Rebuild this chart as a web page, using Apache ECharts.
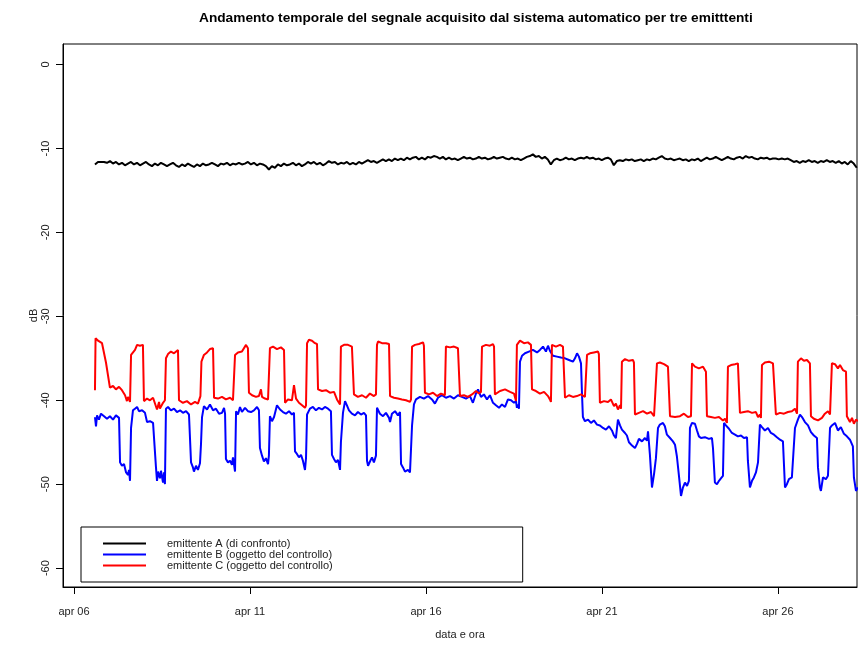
<!DOCTYPE html>
<html><head><meta charset="utf-8">
<script src="https://cdn.jsdelivr.net/npm/echarts@6/dist/echarts.min.js"></script>
<style>html,body{margin:0;padding:0;background:#fff}#c{width:868px;height:645px}</style>
</head><body><div id="c"></div>
<script>
// ---- data (time in hours since 6 April 00:00, values in dB) ----
const titleText = 'Andamento temporale del segnale acquisito dal sistema automatico per tre emitttenti';
const seriesNames = ['emittente A (di confronto)', 'emittente B (oggetto del controllo)', 'emittente C (oggetto del controllo)'];
const xTickHours = [0, 120, 240, 360, 480];
const xTickLabels = ['apr 06', 'apr 11', 'apr 16', 'apr 21', 'apr 26'];
const yTicks = [0, -10, -20, -30, -40, -50, -60];

// emittente A: regular samples
const blackStartHour = 14.3;
const blackStepHours = 2.045;
const blackDb = [-11.9,-11.6,-11.6,-11.6,-11.7,-11.5,-11.8,-11.6,-11.9,-11.7,-12.0,-11.8,-11.6,-11.9,-11.7,-12.0,-11.8,-11.6,-11.9,-12.1,
-11.8,-12.0,-11.7,-11.9,-12.1,-11.9,-11.7,-12.0,-12.2,-11.9,-12.1,-11.8,-12.0,-12.2,-11.9,-12.1,-11.8,-12.0,-11.9,-11.7,
-11.9,-12.1,-11.8,-11.9,-11.7,-12.0,-11.8,-11.9,-11.7,-11.9,-11.8,-11.6,-11.9,-11.7,-12.0,-11.8,-11.9,-12.1,-12.5,-12.1,
-12.3,-11.9,-12.1,-11.8,-12.0,-11.9,-11.7,-12.0,-11.8,-12.1,-11.9,-11.6,-11.8,-11.6,-11.9,-11.7,-12.0,-11.8,-11.5,-11.7,
-11.6,-11.9,-11.7,-11.8,-11.6,-11.9,-11.7,-11.9,-11.6,-11.8,-11.6,-11.4,-11.6,-11.5,-11.7,-11.5,-11.3,-11.5,-11.3,-11.5,
-11.2,-11.4,-11.2,-11.4,-11.1,-11.3,-11.1,-11.0,-11.3,-11.1,-11.3,-11.0,-11.1,-10.9,-11.0,-11.2,-11.0,-11.3,-11.1,-11.3,
-11.2,-11.4,-11.2,-11.0,-11.2,-11.1,-11.3,-11.2,-11.0,-11.2,-11.1,-11.3,-11.2,-11.0,-11.2,-11.1,-11.0,-11.2,-11.3,-11.1,
-11.3,-11.2,-11.4,-11.2,-11.0,-10.9,-10.7,-11.0,-10.9,-11.2,-11.0,-11.3,-11.9,-11.4,-11.2,-11.4,-11.3,-11.1,-11.3,-11.2,
-11.4,-11.2,-11.1,-11.2,-11.0,-11.2,-11.1,-11.3,-11.2,-11.4,-11.2,-11.1,-11.3,-12.0,-11.5,-11.4,-11.5,-11.3,-11.4,-11.3,
-11.5,-11.4,-11.3,-11.5,-11.3,-11.4,-11.2,-11.3,-11.1,-10.9,-11.2,-11.3,-11.2,-11.4,-11.3,-11.2,-11.4,-11.3,-11.5,-11.3,
-11.4,-11.2,-11.5,-11.3,-11.1,-11.3,-11.2,-11.0,-11.2,-11.4,-11.2,-11.0,-11.2,-11.3,-11.1,-11.0,-11.2,-10.9,-11.1,-11.0,
-11.2,-11.3,-11.1,-11.2,-11.1,-11.3,-11.2,-11.2,-11.3,-11.2,-11.3,-11.2,-11.4,-11.6,-11.5,-11.7,-11.5,-11.6,-11.4,-11.6,
-11.5,-11.7,-11.5,-11.6,-11.4,-11.6,-11.5,-11.7,-11.5,-11.8,-11.6,-11.9,-11.5,-11.8,-12.3];

// emittente B: [hour, dB]
const blueData = [[14.3,-42.0],[15.0,-43.1],[15.7,-41.8],[17.0,-42.3],[18.4,-41.6],[20.5,-41.9],[22.5,-42.2],[24.5,-41.9],[26.6,-42.3],[28.6,-41.8],[30.7,-42.1],[31.4,-47.4],[32.7,-47.8],[34.1,-47.6],[35.5,-48.6],[36.8,-48.9],[37.5,-48.3],[38.2,-49.6],[38.9,-43.3],[40.2,-41.2],[41.6,-41.0],[43.0,-40.8],[44.3,-41.3],[46.4,-41.2],[48.4,-41.5],[49.8,-42.6],[51.8,-42.5],[53.9,-42.7],[55.2,-42.6],[55.9,-48.0],[56.6,-49.6],[57.3,-48.5],[58.6,-49.3],[59.3,-48.4],[60.7,-49.8],[61.4,-48.6],[62.0,-50.0],[62.7,-41.0],[64.1,-40.8],[66.1,-41.2],[68.2,-41.0],[70.2,-41.4],[72.3,-41.2],[74.3,-41.5],[76.4,-41.3],[78.4,-41.7],[79.1,-41.6],[79.8,-47.4],[81.1,-48.0],[81.8,-48.5],[83.2,-47.8],[84.5,-48.3],[85.9,-47.5],[86.6,-45.2],[87.3,-42.0],[88.6,-40.7],[90.7,-41.1],[92.7,-40.5],[94.8,-41.2],[96.8,-41.0],[98.9,-41.6],[100.9,-41.5],[102.3,-40.9],[103.0,-41.6],[103.6,-47.0],[105.0,-47.4],[106.4,-47.2],[107.7,-47.7],[108.4,-46.8],[109.8,-48.5],[110.5,-41.3],[111.8,-41.7],[113.2,-40.8],[114.5,-41.4],[116.6,-40.9],[118.6,-41.3],[120.7,-41.4],[122.7,-41.2],[124.8,-40.8],[126.1,-41.2],[126.8,-45.7],[128.2,-46.6],[129.5,-47.3],[130.9,-46.9],[132.3,-47.6],[132.9,-46.6],[133.6,-41.9],[135.0,-42.5],[136.4,-42.0],[138.4,-40.6],[140.5,-41.1],[142.5,-41.4],[144.5,-41.6],[146.6,-41.3],[148.6,-41.7],[150.0,-41.5],[150.7,-46.1],[152.0,-46.4],[153.4,-46.8],[154.8,-46.5],[156.1,-47.2],[157.5,-48.3],[158.2,-46.9],[158.9,-41.7],[160.9,-41.0],[162.9,-40.8],[165.0,-41.2],[167.0,-40.9],[169.1,-41.1],[171.1,-40.8],[173.2,-41.0],[175.2,-41.3],[175.9,-46.5],[177.3,-47.0],[178.6,-47.4],[180.0,-47.1],[181.4,-48.3],[182.0,-45.0],[183.4,-41.5],[184.8,-40.1],[186.1,-40.6],[187.5,-41.2],[189.5,-41.6],[191.6,-41.8],[193.6,-41.4],[195.7,-41.7],[197.7,-41.5],[199.1,-41.8],[199.8,-47.2],[200.5,-47.8],[201.8,-47.3],[203.2,-46.8],[204.5,-47.4],[205.9,-46.6],[206.6,-40.9],[208.6,-41.6],[210.7,-41.9],[212.7,-41.5],[214.8,-42.1],[215.5,-42.6],[216.8,-41.6],[218.9,-41.3],[220.9,-41.8],[222.3,-41.4],[223.0,-47.6],[224.3,-48.0],[225.7,-48.5],[227.7,-48.3],[229.1,-48.6],[230.5,-43.0],[231.8,-40.5],[233.2,-39.9],[235.9,-39.6],[238.6,-39.8],[241.4,-39.5],[244.1,-39.9],[246.1,-40.4],[248.2,-39.7],[250.9,-39.4],[253.6,-39.7],[256.4,-39.5],[259.1,-39.8],[261.8,-39.4],[264.5,-39.6],[267.3,-39.8],[270.0,-39.5],[272.0,-40.3],[274.1,-39.2],[275.5,-38.7],[277.5,-39.6],[279.5,-39.3],[281.6,-39.9],[283.6,-39.4],[285.7,-40.3],[287.7,-40.6],[289.8,-40.9],[291.8,-40.5],[293.9,-40.8],[295.9,-39.9],[298.0,-40.0],[300.0,-40.3],[301.4,-40.1],[302.0,-40.9],[302.7,-40.5],[303.4,-41.0],[304.1,-35.4],[305.5,-34.7],[307.5,-34.4],[310.2,-34.2],[312.9,-34.0],[315.7,-34.3],[317.7,-34.0],[319.8,-33.6],[321.8,-34.2],[323.2,-33.5],[324.5,-34.1],[326.6,-34.7],[329.3,-34.8],[332.0,-34.9],[334.8,-35.0],[337.5,-35.2],[340.2,-35.4],[341.6,-35.0],[343.0,-34.4],[344.3,-34.8],[345.7,-35.6],[346.4,-39.3],[347.0,-42.0],[348.4,-42.5],[350.5,-42.3],[352.5,-42.7],[354.5,-42.4],[356.6,-42.9],[358.6,-43.0],[360.7,-43.3],[362.7,-43.5],[364.8,-43.1],[366.8,-43.6],[368.2,-44.2],[369.5,-44.5],[370.9,-42.3],[372.3,-43.0],[373.6,-43.5],[375.7,-43.9],[377.0,-44.2],[378.4,-45.0],[380.5,-45.4],[382.5,-45.7],[383.9,-45.2],[385.2,-44.6],[387.3,-44.9],[389.3,-44.5],[390.7,-44.8],[391.4,-43.7],[392.7,-46.5],[394.1,-50.4],[395.5,-48.8],[396.8,-46.9],[398.2,-43.3],[399.5,-42.9],[401.6,-42.7],[402.9,-43.1],[404.3,-44.1],[406.4,-44.5],[408.4,-44.9],[409.8,-45.3],[411.1,-46.7],[412.5,-49.0],[413.9,-51.4],[415.2,-50.4],[416.6,-49.8],[418.0,-50.2],[419.3,-49.6],[420.0,-43.3],[421.4,-42.7],[423.4,-42.8],[424.8,-43.6],[426.1,-44.3],[427.5,-44.5],[430.2,-44.4],[432.9,-44.6],[435.0,-44.5],[435.7,-45.7],[437.0,-49.8],[438.4,-50.0],[439.8,-49.6],[441.1,-49.3],[442.5,-49.0],[443.2,-42.7],[444.5,-43.0],[446.6,-43.4],[448.6,-43.9],[450.7,-44.1],[452.7,-44.3],[454.8,-44.2],[456.8,-44.5],[458.9,-44.4],[459.5,-47.2],[460.9,-50.4],[462.3,-49.6],[463.6,-49.2],[465.0,-48.6],[466.4,-47.4],[467.7,-42.9],[469.1,-43.2],[471.1,-43.6],[473.2,-43.3],[475.2,-43.9],[477.3,-44.1],[479.3,-44.4],[481.4,-44.7],[483.4,-44.9],[484.8,-50.4],[486.1,-50.0],[487.5,-49.4],[489.5,-49.2],[491.6,-43.3],[493.6,-42.3],[495.0,-41.7],[496.4,-42.0],[498.4,-42.6],[500.5,-43.0],[502.5,-43.8],[504.5,-44.2],[506.6,-44.5],[507.3,-48.0],[508.6,-50.4],[509.3,-50.8],[510.7,-49.2],[512.7,-49.4],[514.1,-49.0],[515.5,-43.3],[516.8,-43.0],[518.9,-42.7],[520.9,-43.6],[522.9,-43.2],[525.0,-44.0],[527.0,-44.3],[529.1,-44.7],[531.1,-45.5],[531.8,-49.2],[533.2,-50.8],[534.5,-50.4]];

// emittente C: [hour, dB]
const redData = [[14.3,-38.8],[14.7,-32.6],[16.4,-32.9],[17.7,-32.8],[19.1,-33.2],[21.8,-35.5],[24.5,-38.5],[26.6,-38.3],[28.6,-38.7],[30.7,-38.4],[32.7,-38.8],[34.8,-39.4],[36.1,-40.1],[36.8,-39.6],[38.2,-40.2],[38.9,-34.6],[40.2,-34.4],[41.6,-34.0],[43.0,-33.4],[45.0,-33.5],[47.0,-33.4],[47.7,-40.1],[49.8,-39.8],[51.8,-40.0],[53.9,-39.7],[56.6,-41.1],[58.0,-40.2],[58.6,-41.0],[60.7,-40.3],[62.0,-40.0],[62.7,-35.0],[64.1,-34.5],[66.1,-34.2],[68.2,-34.4],[70.9,-34.0],[71.6,-40.0],[74.3,-40.3],[77.0,-40.1],[79.8,-40.5],[82.5,-40.2],[84.5,-40.4],[86.2,-39.5],[86.9,-35.4],[88.6,-34.6],[90.7,-34.3],[92.7,-33.9],[94.8,-33.8],[95.5,-39.7],[98.2,-39.8],[100.9,-39.6],[103.6,-39.9],[106.4,-39.7],[108.4,-40.0],[109.8,-34.6],[111.8,-34.3],[114.5,-34.2],[117.3,-33.4],[118.6,-33.8],[119.3,-39.1],[121.4,-39.4],[124.1,-39.6],[126.1,-39.5],[127.5,-38.7],[128.2,-39.6],[130.2,-39.8],[132.3,-39.9],[133.6,-33.8],[135.7,-33.6],[138.4,-33.9],[141.1,-33.7],[143.2,-34.0],[143.9,-40.3],[145.9,-39.9],[148.6,-40.0],[150.0,-38.2],[151.4,-39.8],[153.4,-40.3],[155.5,-40.6],[157.5,-40.9],[158.2,-40.6],[158.9,-33.2],[160.2,-32.8],[162.3,-32.9],[164.3,-33.2],[165.7,-33.3],[166.4,-38.7],[169.1,-38.9],[171.8,-38.8],[174.5,-39.1],[177.3,-39.0],[179.3,-39.9],[181.4,-40.5],[182.0,-33.6],[184.1,-33.4],[186.8,-33.4],[189.5,-33.6],[190.2,-33.8],[190.9,-39.3],[193.6,-39.6],[196.4,-39.4],[199.1,-39.7],[201.8,-39.2],[204.5,-39.5],[205.9,-39.3],[206.6,-33.4],[207.3,-33.0],[210.0,-33.2],[212.7,-33.2],[214.8,-33.3],[215.5,-39.5],[218.2,-39.7],[220.9,-39.8],[223.6,-39.9],[226.4,-40.0],[229.1,-40.2],[229.8,-39.9],[230.5,-33.6],[232.5,-33.4],[235.2,-33.3],[238.0,-33.1],[238.6,-33.5],[239.3,-39.1],[242.0,-39.3],[244.8,-39.1],[247.5,-39.5],[250.2,-39.2],[252.9,-39.4],[253.6,-33.6],[256.4,-33.7],[259.1,-33.6],[261.8,-33.8],[262.5,-33.9],[263.2,-39.5],[265.9,-39.4],[268.6,-39.6],[271.4,-39.3],[274.1,-38.9],[276.1,-39.2],[277.5,-39.0],[278.2,-33.6],[280.9,-33.4],[283.6,-33.5],[285.7,-33.3],[286.4,-33.6],[287.0,-39.3],[290.5,-38.9],[293.9,-38.7],[297.3,-39.0],[300.0,-39.2],[301.4,-40.1],[302.0,-33.4],[304.1,-32.9],[306.8,-33.2],[309.5,-33.1],[311.6,-33.4],[312.3,-38.7],[315.0,-38.9],[317.7,-39.2],[320.5,-39.0],[323.2,-39.5],[324.5,-39.9],[325.2,-40.2],[325.9,-33.4],[328.6,-33.6],[331.4,-33.4],[333.4,-33.6],[334.1,-33.8],[334.8,-39.7],[337.5,-39.4],[340.2,-39.6],[342.9,-39.5],[345.7,-39.3],[348.4,-39.6],[349.1,-39.5],[349.8,-34.6],[351.8,-34.4],[354.5,-34.3],[357.3,-34.2],[357.9,-34.5],[358.6,-40.3],[361.4,-40.1],[364.1,-40.2],[366.1,-39.9],[368.2,-40.7],[369.5,-40.4],[370.9,-41.1],[372.3,-40.6],[373.0,-41.0],[373.6,-35.4],[375.7,-35.1],[378.4,-35.3],[381.1,-35.2],[381.8,-35.5],[382.5,-41.7],[385.2,-41.5],[388.0,-41.3],[390.7,-41.6],[393.4,-41.4],[395.5,-41.9],[396.8,-41.8],[397.5,-35.6],[399.5,-35.5],[402.3,-35.7],[405.0,-36.0],[405.7,-35.9],[406.4,-41.9],[409.8,-42.0],[413.2,-41.9],[415.9,-41.6],[418.6,-42.0],[420.7,-41.9],[421.4,-35.6],[423.4,-36.0],[426.1,-36.2],[428.9,-36.0],[430.9,-36.6],[431.6,-41.9],[434.3,-42.0],[437.0,-42.1],[439.8,-42.0],[442.5,-42.4],[443.9,-42.2],[445.2,-42.7],[445.9,-36.0],[448.0,-35.8],[450.7,-35.7],[452.7,-35.6],[453.4,-35.8],[454.1,-41.5],[456.8,-41.4],[459.5,-41.3],[462.3,-41.5],[465.0,-41.4],[466.4,-42.0],[467.7,-41.7],[468.4,-42.1],[469.1,-35.8],[471.1,-35.5],[473.9,-35.4],[476.6,-35.6],[477.9,-35.7],[478.6,-41.7],[481.4,-41.5],[484.1,-41.6],[486.8,-41.4],[489.5,-41.3],[491.6,-41.0],[493.0,-41.6],[493.6,-35.4],[495.7,-35.0],[497.7,-35.3],[499.8,-35.2],[501.8,-35.6],[502.5,-41.9],[504.5,-42.2],[507.3,-42.4],[510.0,-42.1],[512.0,-41.6],[514.1,-41.3],[515.5,-41.7],[516.1,-41.5],[516.8,-35.6],[518.9,-35.7],[520.9,-36.2],[522.3,-35.8],[524.3,-36.4],[526.4,-36.6],[527.0,-41.9],[529.1,-42.6],[530.5,-42.1],[531.8,-42.8],[533.2,-42.3],[534.5,-42.5]];

// ---- chart ----
const FONT = '"Liberation Sans", Arial, sans-serif';
const blackData = blackDb.map((v, i) => [blackStartHour + i * blackStepHours, v]);

const chart = echarts.init(document.getElementById('c'), null, { renderer: 'canvas' });
chart.setOption({
  animation: false,
  backgroundColor: '#fff',
  textStyle: { fontFamily: FONT },
  title: {
    text: titleText, left: 199, top: 11, padding: 0,
    textStyle: { fontFamily: FONT, fontSize: 13.7, fontWeight: 'bold', color: '#000' }
  },
  legend: {
    orient: 'vertical', left: 81, top: 527,
    data: seriesNames, icon: 'rect', itemWidth: 43, itemHeight: 2, itemGap: 0,
    borderColor: '#000', borderWidth: 1, padding: [11, 190, 11, 22],
    selectedMode: false,
    textStyle: { fontFamily: FONT, fontSize: 11, color: '#222', lineHeight: 10.5, padding: [0, 0, 0, 16] }
  },
  grid: { left: 63, right: 11, top: 44, bottom: 53, show: true, borderColor: '#000', borderWidth: 1, containLabel: false },
  xAxis: {
    type: 'value', min: -7.5, max: 533.9,
    axisLine: { show: true, onZero: false, lineStyle: { color: '#000', width: 1 } },
    axisTick: { show: true, customValues: xTickHours, length: 7, lineStyle: { color: '#000' } },
    axisLabel: { customValues: xTickHours, formatter: v => xTickLabels[xTickHours.indexOf(v)], fontSize: 11, color: '#222', margin: 19, fontFamily: FONT },
    splitLine: { show: false },
    name: 'data e ora', nameLocation: 'middle', nameGap: 42, nameMoveOverlap: false,
    nameTextStyle: { fontSize: 11, color: '#222', fontFamily: FONT }
  },
  yAxis: {
    type: 'value', min: -62.25, max: 2.45,
    axisLine: { show: true, onZero: false, lineStyle: { color: '#000', width: 1 } },
    axisTick: { show: true, customValues: yTicks, length: 7, lineStyle: { color: '#000' } },
    axisLabel: { customValues: yTicks, rotate: 90, fontSize: 11, color: '#222', margin: 12, fontFamily: FONT },
    splitLine: { show: false },
    name: 'dB', nameLocation: 'middle', nameGap: 24, nameRotate: 90, nameMoveOverlap: false,
    nameTextStyle: { fontSize: 11, color: '#222', fontFamily: FONT }
  },
  series: [
    { name: seriesNames[0], type: 'line', data: blackData, showSymbol: false, symbol: 'none', color: '#000', lineStyle: { color: '#000', width: 2 }, z: 2 },
    { name: seriesNames[1], type: 'line', data: blueData, showSymbol: false, symbol: 'none', color: '#0000ff', lineStyle: { color: '#0000ff', width: 2 }, z: 3 },
    { name: seriesNames[2], type: 'line', data: redData, showSymbol: false, symbol: 'none', color: '#ff0000', lineStyle: { color: '#ff0000', width: 2 }, z: 4 }
  ]
});
</script></body></html>
